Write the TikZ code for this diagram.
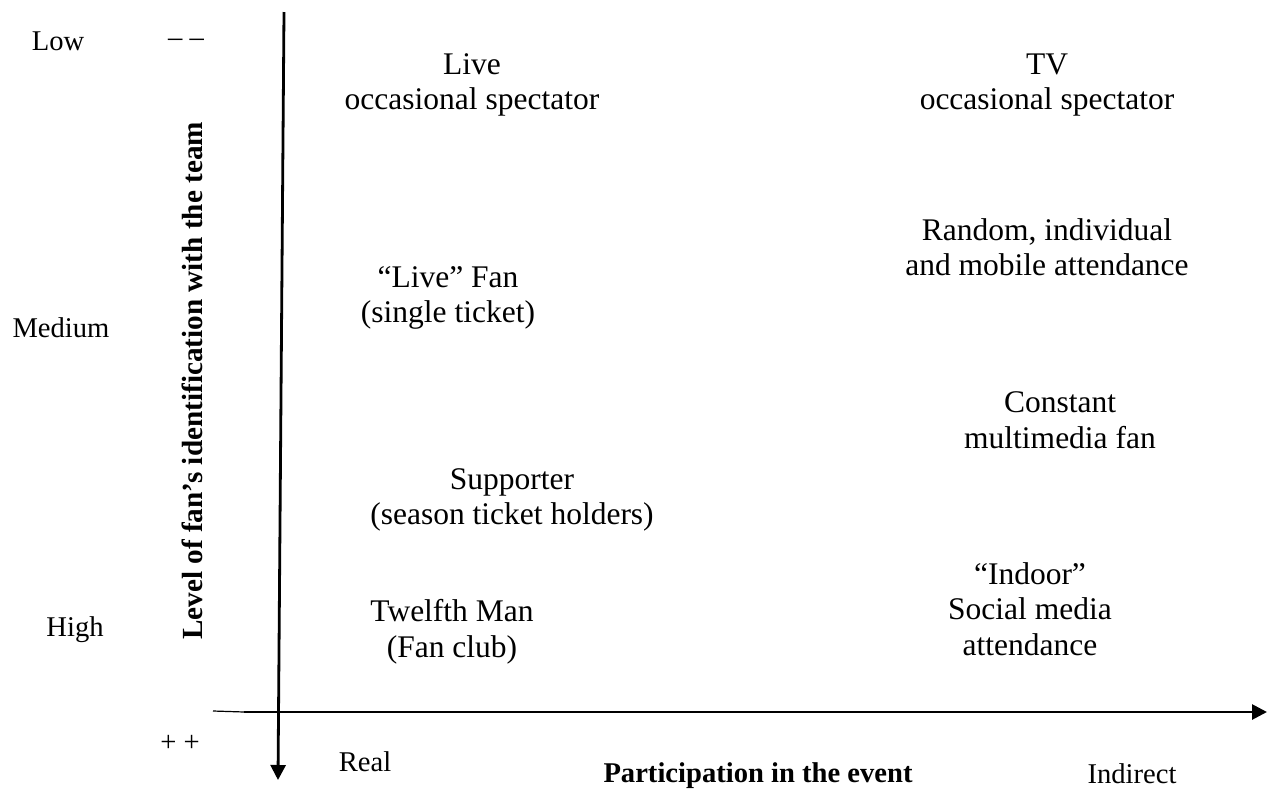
\documentclass[tikz,border=0pt]{standalone}
\usepackage{fontspec}
\setmainfont{Liberation Serif}
\usetikzlibrary{arrows.meta}
\begin{document}
\begin{tikzpicture}[x=0.5pt,y=-0.5pt,
  lbl/.style={font=\fontsize{14.3}{16.5}\selectfont, inner sep=0pt},
  cell/.style={font=\fontsize{15.75}{17.75}\selectfont, align=center, inner sep=0pt},
  axisline/.style={line width=1.4pt, -{Triangle[length=7.5pt,width=7.5pt]}}]
\useasboundingbox (0,0) rectangle (1271,794);

% axes
\coordinate (vtop) at (284,12);
\coordinate (vend) at (278,780);
\coordinate (tstart) at (213,711);
\coordinate (hstart) at (244,712);
\coordinate (hend) at (1267,712);
\draw[axisline] (vtop) -- (vend);
\draw[line width=0.6pt] (tstart) -- (hstart);
\draw[axisline] (hstart) -- (hend);

% scale of the vertical axis
\node[lbl] (low) at (58,41) {Low};
\node[lbl] (minus) at (186,43) {– –};
\node[lbl] (medium) at (61,328) {Medium};
\node[lbl] (high) at (75,630) {High};
\node[lbl] (plus) at (180,743) {+ +};
\node[lbl, font=\fontsize{14.6}{16.8}\selectfont\bfseries, rotate=90] (ylabel) at (192,381)
  {Level of fan’s identification with the team};

% scale of the horizontal axis
\node[lbl] (real) at (365,762) {Real};
\node[lbl, font=\fontsize{14.3}{16.5}\selectfont\bfseries] (xlabel) at (758,776) {Participation in the event};
\node[lbl] (indirect) at (1132,774) {Indirect};

% fan types
\node[cell] (liveocc) at (472,85) {Live\\occasional spectator};
\node[cell] (tvocc) at (1047,85) {TV\\occasional spectator};
\node[cell] (random) at (1047,247) {Random, individual\\and mobile attendance};
\node[cell] (livefan) at (448,298) {“Live” Fan\\(single ticket)};
\node[cell] (constant) at (1060,420) {Constant\\multimedia fan};
\node[cell] (supporter) at (512,500) {Supporter\\(season ticket holders)};
\node[cell] (indoor) at (1030,609) {“Indoor”\\Social media\\attendance};
\node[cell] (twelfth) at (452,632) {Twelfth Man\\(Fan club)};
\end{tikzpicture}
\end{document}
